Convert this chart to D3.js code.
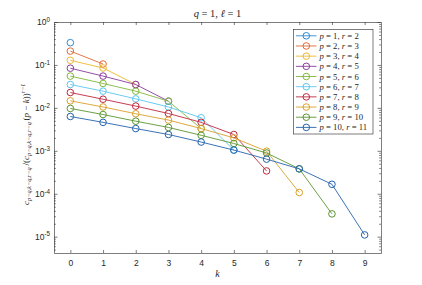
<!DOCTYPE html>
<html><head><meta charset="utf-8">
<script src="https://cdn.jsdelivr.net/npm/d3@7"></script>
<style>
html,body{margin:0;padding:0;background:#fff;}
svg{display:block;}
</style></head>
<body>
<svg id="c" width="422" height="285"></svg>
<script>
// ---- data ----
const kValues = [0,1,2,3,4,5,6,7,8,9];
const seriesLabels = [
  ["1","2"],["2","3"],["3","4"],["4","5"],["5","6"],
  ["6","7"],["7","8"],["8","9"],["9","10"],["10","11"]
];
const p1  = [0.33];
const p2  = [0.21, 0.105];
const p3  = [0.128, 0.085, 0.035];
const p4  = [0.084, 0.055, 0.035, 0.0143];
const p5  = [0.055, 0.037, 0.0245, 0.0143, 0.0033];
const p6  = [0.035, 0.0245, 0.0162, 0.0105, 0.0059, 0.00104];
const p7  = [0.0228, 0.0159, 0.011, 0.0074, 0.0046, 0.0024, 0.00034];
const p8  = [0.0146, 0.0105, 0.0073, 0.0052, 0.0033, 0.0020, 0.00098, 0.000107];
const p9  = [0.0097, 0.0070, 0.0049, 0.0035, 0.0023, 0.00148, 0.00089, 0.00038, 0.000034];
const p10 = [0.0063, 0.0046, 0.0033, 0.0024, 0.0016, 0.00104, 0.00064, 0.00038, 0.000166, 0.000011];
const seriesValues = [p1,p2,p3,p4,p5,p6,p7,p8,p9,p10];
const colors = ["#2C8AD4","#E06A35","#EEB92E","#8A3A9E","#80B83C","#5CC6F0","#C0283F","#D9A02A","#5A9530","#2563AE"];
const yTickExps = [0,-1,-2,-3,-4,-5];

// ---- layout ----
const svg = d3.select("#c");
const L=54, R=381, T=22, B=253;
const x = d3.scaleLinear().domain([-0.5, 9.5]).range([L, R]);
const y = d3.scaleLog().domain([Math.pow(10,-5.38), 1]).range([B, T]);
const axisCol = "#262626";

// minor ticks
const minor = [];
for (let e=-6; e<0; e++) for (let m=2; m<=9; m++) { const v=m*Math.pow(10,e); if (v>=y.domain()[0] && v<=1) minor.push(v); }

function styleAxis(g){
  g.selectAll("path.domain").attr("stroke", axisCol).attr("stroke-width", 0.6);
  g.selectAll(".tick line").attr("stroke", axisCol).attr("stroke-width", 0.6);
  g.selectAll("text").attr("fill", axisCol).attr("font-family","Liberation Sans, Arial, sans-serif").attr("font-size", 8.5);
}

// x axes
const gxb = svg.append("g").attr("transform",`translate(0,${B})`)
  .call(d3.axisBottom(x).tickValues(kValues).tickSizeInner(-3).tickSizeOuter(0).tickPadding(7).tickFormat(d3.format("d")));
styleAxis(gxb);
const gxt = svg.append("g").attr("transform",`translate(0,${T})`)
  .call(d3.axisTop(x).tickValues(kValues).tickSizeInner(-3).tickSizeOuter(0).tickFormat(""));
styleAxis(gxt);

// y axes
const gyl = svg.append("g").attr("transform",`translate(${L},0)`)
  .call(d3.axisLeft(y).tickValues(yTickExps.map(e=>Math.pow(10,e))).tickSizeInner(-3.5).tickSizeOuter(0).tickPadding(4).tickFormat(""));
styleAxis(gyl);
gyl.selectAll(".tick text").each(function(d){
  const t = d3.select(this);
  const e = Math.round(Math.log10(d));
  t.text(null).attr("dy","0.32em");
  t.append("tspan").text("10");
  t.append("tspan").attr("dy","-0.55em").attr("font-size",6.3).text(String(e));
});
const gyr = svg.append("g").attr("transform",`translate(${R},0)`)
  .call(d3.axisRight(y).tickValues(yTickExps.map(e=>Math.pow(10,e))).tickSizeInner(-3.5).tickSizeOuter(0).tickFormat(""));
styleAxis(gyr);
const gylm = svg.append("g").attr("transform",`translate(${L},0)`)
  .call(d3.axisLeft(y).tickValues(minor).tickSizeInner(-1.8).tickSizeOuter(0).tickFormat(""));
styleAxis(gylm); gylm.select("path.domain").remove();
const gyrm = svg.append("g").attr("transform",`translate(${R},0)`)
  .call(d3.axisRight(y).tickValues(minor).tickSizeInner(-1.8).tickSizeOuter(0).tickFormat(""));
styleAxis(gyrm); gyrm.select("path.domain").remove();

// ---- series ----
const line = d3.line().x((d,i)=>x(kValues[i])).y(d=>y(d));
const plot = svg.append("g");
seriesValues.forEach((vals,si)=>{
  const g = plot.append("g");
  g.append("path").datum(vals).attr("d", line).attr("fill","none")
    .attr("stroke", colors[si]).attr("stroke-width", 0.9);
  g.selectAll("circle").data(vals).join("circle")
    .attr("cx",(d,i)=>x(kValues[i])).attr("cy",d=>y(d)).attr("r",3.3)
    .attr("fill","none").attr("stroke",colors[si]).attr("stroke-width",1);
});

// ---- title ----
const serif = "Liberation Serif, Times New Roman, serif";
const title = svg.append("text").attr("x",(L+R)/2).attr("y",16.5).attr("text-anchor","middle")
  .attr("font-family",serif).attr("font-size",10.5).attr("fill",axisCol);
title.append("tspan").attr("font-style","italic").text("q");
title.append("tspan").text(" = 1, ");
title.append("tspan").attr("font-style","italic").text("ℓ");
title.append("tspan").text(" = 1");

// ---- x label ----
svg.append("text").attr("x",(L+R)/2).attr("y",277).attr("text-anchor","middle")
  .attr("font-family",serif).attr("font-style","italic").attr("font-size",10).attr("fill",axisCol).text("k");

// ---- y label ----
const yl = svg.append("text").attr("transform",`translate(28.5,${(T+B)/2+7}) rotate(-90)`)
  .attr("text-anchor","middle").attr("font-family",serif).attr("font-size",9).attr("fill",axisCol);
function sub(txt){
  yl.append("tspan").attr("dy",2.4).attr("font-size",6.3).attr("font-style","italic").text(txt);
  yl.append("tspan").attr("dy",-2.4).text("\u2009");
}
yl.append("tspan").attr("font-style","italic").text("c");
sub("p−q,k−q,r−q");
yl.append("tspan").text("/(");
yl.append("tspan").attr("font-style","italic").text("c");
sub("p−q,k−q,r−q");
yl.append("tspan").text("(");
yl.append("tspan").attr("font-style","italic").text("p");
yl.append("tspan").text(" − ");
yl.append("tspan").attr("font-style","italic").text("k");
yl.append("tspan").text("))");
yl.append("tspan").attr("dy",-3.8).attr("font-size",6.3).attr("font-style","italic").text("r−ℓ");

// ---- legend ----
const lx0=293.5, ly0=29.5, lw=79.5, lh=104.5;
const leg = svg.append("g");
leg.append("rect").attr("x",lx0).attr("y",ly0).attr("width",lw).attr("height",lh)
  .attr("fill","#fff").attr("stroke",axisCol).attr("stroke-width",0.6);
const rowY = d3.scaleLinear().domain([0,9]).range([35.8,127.4]);
seriesLabels.forEach((lab,i)=>{
  const yy = rowY(i);
  leg.append("line").attr("x1",296).attr("x2",316.5).attr("y1",yy).attr("y2",yy).attr("stroke",colors[i]).attr("stroke-width",0.9);
  leg.append("circle").attr("cx",306.3).attr("cy",yy).attr("r",3.3).attr("fill","none").attr("stroke",colors[i]).attr("stroke-width",1);
  const t = leg.append("text").attr("x",319.5).attr("y",yy+3).attr("font-family",serif).attr("font-size",8.7).attr("fill",axisCol);
  t.append("tspan").attr("font-style","italic").text("p");
  t.append("tspan").text(" = "+lab[0]+", ");
  t.append("tspan").attr("font-style","italic").text("r");
  t.append("tspan").text(" = "+lab[1]);
});
</script>
</body></html>
